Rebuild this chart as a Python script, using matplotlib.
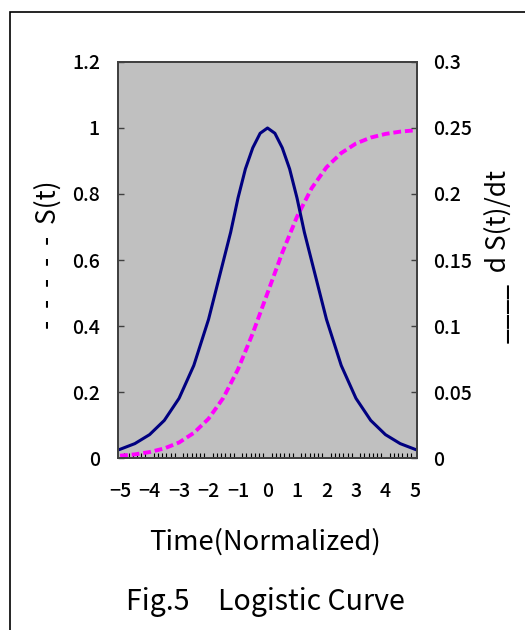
import matplotlib
matplotlib.use("Agg")
import matplotlib.pyplot as plt
from matplotlib.patches import Rectangle
from matplotlib.ticker import FormatStrFormatter
import numpy as np

plt.rcParams["font.family"] = ["Noto Sans CJK JP", "DejaVu Sans"]

NAVY, MAGENTA, PANEL, SPINE = "#000080", "#ff00ff", "#c0c0c0", "#404040"

# values
t_S = [-5, -4.5, -4, -3.5, -3, -2.5, -2, -1.5, -1, -0.5, 0,
       0.5, 1, 1.5, 2, 2.5, 3, 3.5, 4, 4.5, 5]
S = [0.007, 0.011, 0.018, 0.029, 0.047, 0.076, 0.119, 0.182, 0.269, 0.378, 0.5,
     0.622, 0.731, 0.818, 0.881, 0.924, 0.953, 0.971, 0.982, 0.989, 0.993]

t_dS = [-5, -4.5, -4, -3.5, -3, -2.5, -2, -1.5, -1.25, -1, -0.75, -0.5, -0.25, 0,
        0.25, 0.5, 0.75, 1, 1.25, 1.5, 2, 2.5, 3, 3.5, 4, 4.5, 5]
dS = [0.0066, 0.0109, 0.0177, 0.0285, 0.0452, 0.0701, 0.105, 0.149, 0.171, 0.197,
      0.219, 0.235, 0.246, 0.25, 0.246, 0.235, 0.219, 0.197, 0.171, 0.149, 0.105,
      0.0701, 0.0452, 0.0285, 0.0177, 0.0109, 0.0066]

x_labels = [-5, -4, -3, -2, -1, 0, 1, 2, 3, 4, 5]
left_ticks = [0, 0.2, 0.4, 0.6, 0.8, 1, 1.2]
right_ticks = [0, 0.05, 0.1, 0.15, 0.2, 0.25, 0.3]

fig = plt.figure(figsize=(5.25, 6.3), dpi=100)
fig.patches.append(Rectangle((10 / 525, -0.2), 1.2, 1 - 12 / 630 + 0.2,
                             transform=fig.transFigure, fill=False,
                             ec="black", lw=1.2))

ax = fig.add_axes([0.2248, 0.2730, 0.5695, 0.6286])
ax.set_facecolor(PANEL)
ax2 = ax.twinx()

ax.plot(t_S, S, color=MAGENTA, lw=2.8, ls=(0, (2, 1)), solid_capstyle="butt")
ax2.plot(t_dS, dS, color=NAVY, lw=2.2)

ax.set_xlim(-5.07, 5.07)
ax.set_ylim(0, 1.2)
ax2.set_ylim(0, 0.3)

ax.set_xticks(x_labels)
ax.set_xticklabels([str(v).replace("-", "\u2212") for v in x_labels])
ax.set_xticks(np.arange(-5, 5.01, 1 / 7), minor=True)
ax.tick_params(axis="x", which="major", length=0, pad=17, labelsize=14)
ax.tick_params(axis="x", which="minor", direction="in", length=3.8, width=0.8,
               color="black")

ax.set_yticks(left_ticks)
ax.yaxis.set_major_formatter(FormatStrFormatter("%g"))
ax2.set_yticks(right_ticks)
ax2.yaxis.set_major_formatter(FormatStrFormatter("%g"))
ax.tick_params(axis="y", direction="in", length=4.5, width=1, color=SPINE,
               pad=13, labelsize=14)
ax2.tick_params(axis="y", direction="in", length=4.5, width=1, color=SPINE,
                pad=11.5, labelsize=14)
for lab in ax.get_xticklabels() + ax.get_yticklabels() + ax2.get_yticklabels():
    lab.set_fontweight("medium")

for a in (ax, ax2):
    for sp in a.spines.values():
        sp.set_color(SPINE)
        sp.set_linewidth(1.3)

fig.text(0.0914, 0.5960, "-  -  -  -  -  S(t)", rotation=90, ha="center",
         va="center", fontsize=19)
fig.text(0.9495, 0.5929, "____  d S(t)/dt", rotation=90, ha="center",
         va="center", fontsize=19)
fig.text(0.5048, 0.1397, "Time(Normalized)", ha="center", va="center", fontsize=19.8)
fig.text(0.5048, 0.0444, "Fig.5\u3000Logistic Curve", ha="center", va="center",
         fontsize=20.5)

fig.savefig("out.png", dpi=100)
